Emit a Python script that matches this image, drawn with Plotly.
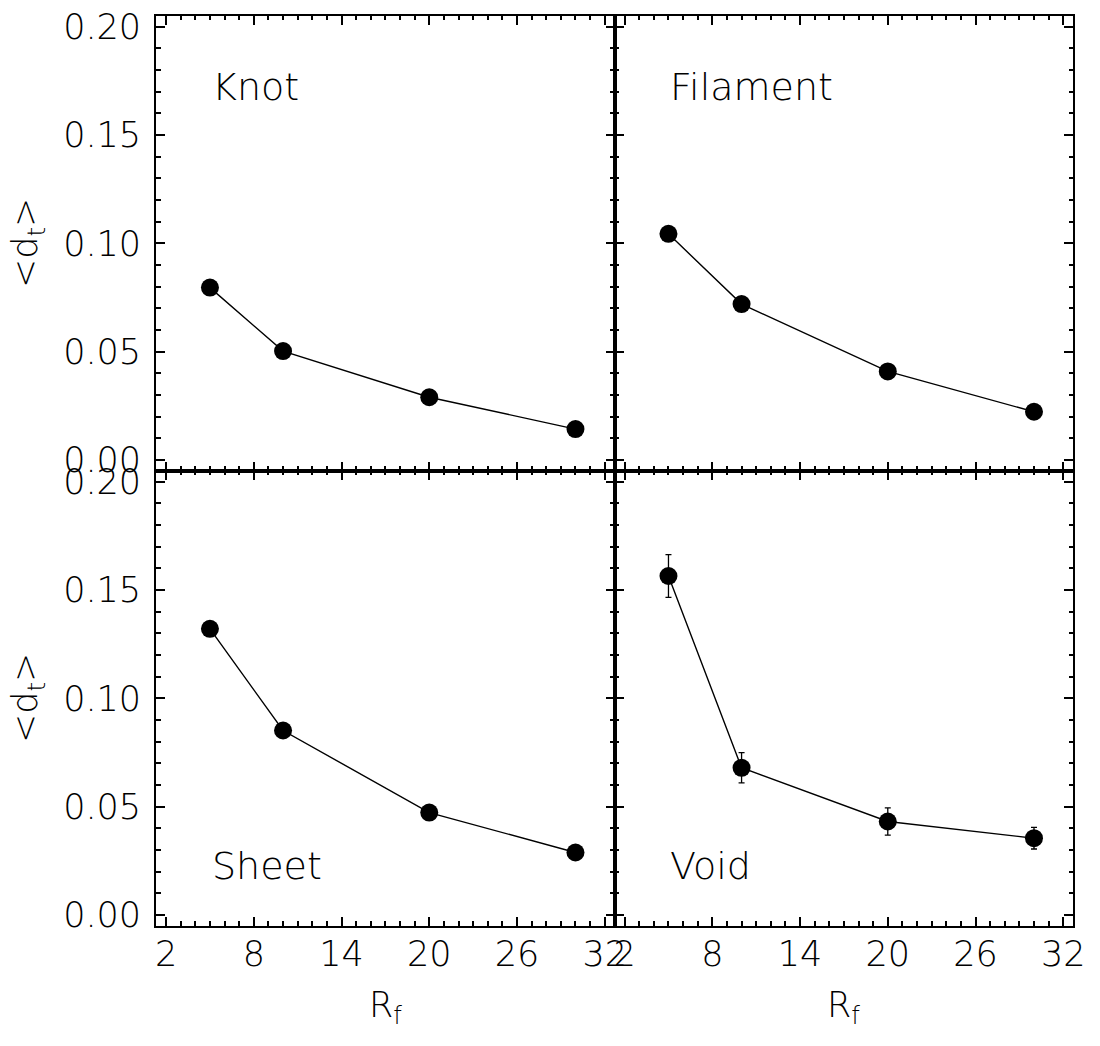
import plotly.graph_objects as go
from plotly.subplots import make_subplots

# ---- data ----
rf = [5, 10, 20, 30]
knot = [0.0796, 0.0503, 0.0290, 0.0143]
knot_err = [0.0010, 0.0025, 0.0030, 0.0010]
filament = [0.1044, 0.0720, 0.0409, 0.0223]
filament_err = [0.0010, 0.0010, 0.0010, 0.0010]
sheet = [0.1321, 0.0852, 0.0473, 0.0289]
sheet_err = [0.0010, 0.0010, 0.0010, 0.0010]
void = [0.1565, 0.0680, 0.0432, 0.0355]
void_err = [0.0099, 0.0070, 0.0063, 0.0050]
panel_names = ["Knot", "Filament", "Sheet", "Void"]
x_ticks = [2, 8, 14, 20, 26, 32]
y_ticks = [0.00, 0.05, 0.10, 0.15, 0.20]

FONT = "DejaVu Sans"
FW = 200

fig = make_subplots(rows=2, cols=2, horizontal_spacing=0, vertical_spacing=0)

series = [(knot, knot_err), (filament, filament_err), (sheet, sheet_err), (void, void_err)]
cells = [(1, 1), (1, 2), (2, 1), (2, 2)]
for (vals, errs), (r, c) in zip(series, cells):
    fig.add_trace(go.Scatter(
        x=rf, y=vals, mode="lines+markers",
        line=dict(color="black", width=1.4),
        marker=dict(color="black", size=18, symbol="circle"),
        error_y=dict(type="data", array=errs, visible=True, color="black",
                     thickness=1.3, width=3),
        showlegend=False), row=r, col=c)

W, H = 1100, 1046
xl = [157 / W, 621 / W]
xr = [621 / W, 1085 / W]
yt = [1 - 470 / H, 1 - 7 / H]
yb = [1 - 933 / H, 1 - 470 / H]
doms = [(xl, yt), (xr, yt), (xl, yb), (xr, yb)]

tickfont = dict(family=FONT, size=35, color="black", weight=FW)
for i, (dx, dy) in enumerate(doms, start=1):
    r, c = cells[i - 1]
    xa = dict(domain=dx, range=[1.32, 32.68], tickmode="array", tickvals=x_ticks,
              ticktext=[str(v) for v in x_ticks], showticklabels=(r == 2),
              ticks="inside", ticklen=9, tickwidth=2, tickcolor="black",
              showline=True, linewidth=2, linecolor="black", mirror="allticks",
              showgrid=False, zeroline=False, tickfont=tickfont, ticklabelstandoff=-4,
              minor=dict(dtick=1, tick0=2, ticks="inside", ticklen=4.5, tickwidth=2,
                         tickcolor="black", showgrid=False))
    ya = dict(domain=dy, range=[-0.005, 0.205], tickmode="array", tickvals=y_ticks,
              ticktext=["%.2f" % v for v in y_ticks], showticklabels=(c == 1),
              ticks="inside", ticklen=9, tickwidth=2, tickcolor="black",
              showline=True, linewidth=2, linecolor="black", mirror="allticks",
              showgrid=False, zeroline=False, tickfont=tickfont, ticklabelstandoff=6,
              minor=dict(dtick=0.01, tick0=0, ticks="inside", ticklen=4.5, tickwidth=2,
                         tickcolor="black", showgrid=False))
    fig.layout["xaxis" if i == 1 else f"xaxis{i}"].update(xa)
    fig.layout["yaxis" if i == 1 else f"yaxis{i}"].update(ya)

# panel labels
label_y = [0.172, 0.172, 0.0225, 0.0225]
for i, name in enumerate(panel_names, start=1):
    sfx = "" if i == 1 else str(i)
    fig.add_annotation(x=5, y=label_y[i - 1], xref="x" + sfx, yref="y" + sfx,
                       text=name, showarrow=False, xanchor="left", yanchor="middle",
                       font=dict(family=FONT, size=38, color="black", weight=FW))

# axis titles
title_font = dict(family=FONT, size=35, color="black", weight=FW)
for yc in [(yt[0] + yt[1]) / 2, (yb[0] + yb[1]) / 2]:
    fig.add_annotation(x=27 / W, y=yc, xref="paper", yref="paper",
                       text="&lt;d<sub>t</sub>&gt;", textangle=-90, showarrow=False,
                       xanchor="center", yanchor="middle", font=title_font)
for xc in [(xl[0] + xl[1]) / 2, (xr[0] + xr[1]) / 2]:
    fig.add_annotation(x=xc, y=1 - 1016 / H, xref="paper", yref="paper",
                       text="R<sub>f</sub>", showarrow=False,
                       xanchor="center", yanchor="middle", font=title_font)

fig.update_layout(width=W, height=H, margin=dict(l=0, r=0, t=0, b=0),
                  paper_bgcolor="white", plot_bgcolor="white",
                  font=dict(family=FONT, color="black"))

fig.write_html("out.html")
